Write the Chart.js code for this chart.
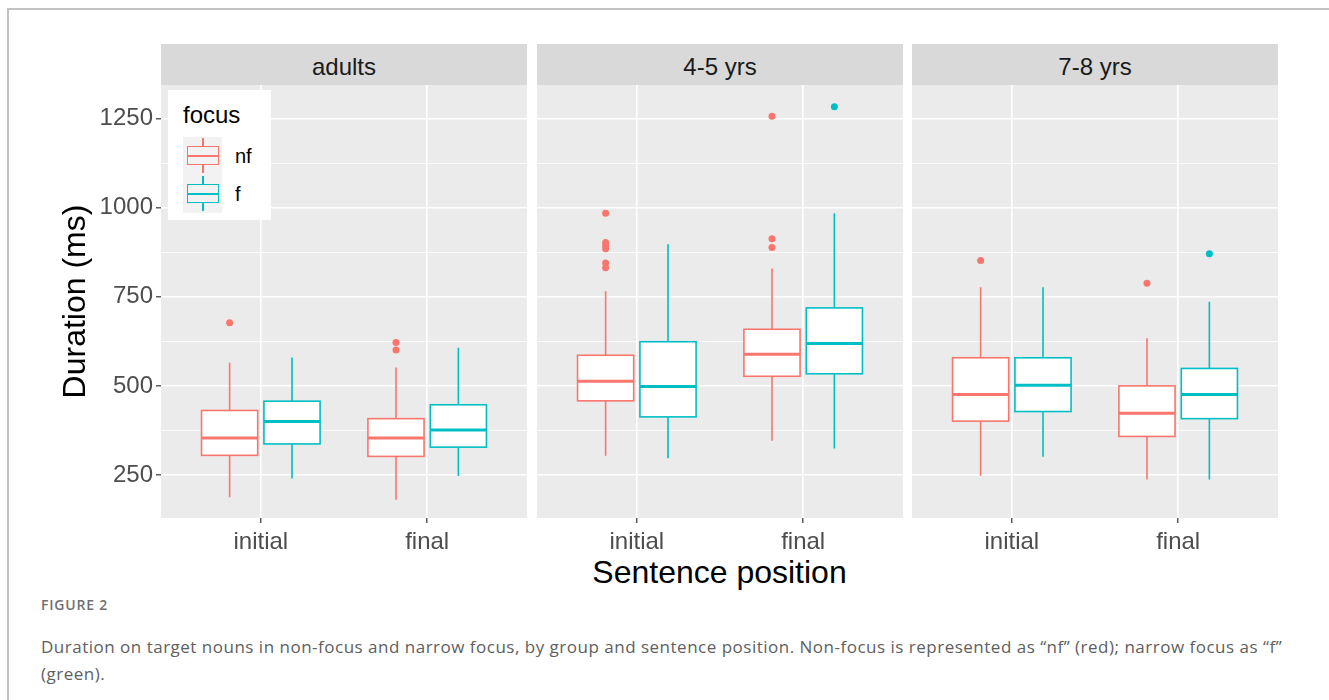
<!DOCTYPE html>
<html>
<head>
<meta charset="utf-8">
<script src="https://cdn.jsdelivr.net/npm/chart.js@4"></script>
<style>
  body { margin: 0; width: 1329px; height: 700px; background: #fff; position: relative; overflow: hidden; font-family: "Liberation Sans", Arial, sans-serif; }
  #frame { position: absolute; left: 7px; top: 8px; width: 1400px; height: 800px; border-left: 2px solid #c2c2c2; border-top: 2px solid #c2c2c2; }
  .strip { position: absolute; top: 44px; height: 36px; padding-top: 5px; width: 366px; background: #d9d9d9; color: #1a1a1a; font-size: 24px; line-height: 36px; text-align: center; }
  .panel { position: absolute; top: 85px; height: 475px; }
  #legend { position: absolute; left: 168px; top: 90px; width: 103px; height: 130px; background: #fff; z-index: 2; }
  #legend .ltitle { position: absolute; left: 15px; top: 11px; font-size: 24px; line-height: 28px; color: #000; }
  #legend .key { position: absolute; left: 15px; width: 39px; height: 38px; background: #f2f2f2; }
  #legend .key i { position: absolute; display: block; box-sizing: border-box; }
  #legend .lab { position: absolute; left: 67px; font-size: 20px; line-height: 24px; color: #000; }
  #xtitle { position: absolute; left: 161px; width: 1117px; top: 554px; text-align: center; font-size: 32px; line-height: 36px; color: #000; }
  #figlabel { position: absolute; left: 41px; top: 597px; font-family: "Open Sans", sans-serif; font-size: 14px; line-height: 16px; font-weight: 600; letter-spacing: 0.8px; color: #707070; }
  #caption { position: absolute; left: 41px; top: 633px; font-family: "Open Sans", sans-serif; font-size: 17px; line-height: 27px; letter-spacing: 0.5px; color: #606060; white-space: nowrap; }
</style>
</head>
<body>
<div id="frame"></div>
<div id="legend"></div>
<div id="xtitle">Sentence position</div>
<div id="figlabel">FIGURE 2</div>
<div id="caption">Duration on target nouns in non-focus and narrow focus, by group and sentence position. Non-focus is represented as “nf” (red); narrow focus as “f”<br>(green).</div>
<script>
// facets, x categories and fill groups
const groups = ['adults', '4-5 yrs', '7-8 yrs'];
const positions = ['initial', 'final'];
const focusLevels = ['nf', 'f'];
const focusColors = ['#F8766D', '#00BFC4'];

const yTicks = [250, 500, 750, 1000, 1250];
const yMinor = [375, 625, 875, 1125];

// [lower whisker, q1, median, q3, upper whisker] per group, then initial / final
const nfStats = [
  [[187, 305, 354, 431, 565], [180, 302, 354, 408, 552]],
  [[304, 458, 513, 586, 766], [346, 527, 589, 659, 830]],
  [[248, 401, 476, 579, 777], [237, 358, 423, 500, 634]]
];
const fStats = [
  [[240, 337, 400, 457, 580], [247, 328, 376, 447, 607]],
  [[297, 413, 498, 624, 898], [324, 534, 619, 719, 985]],
  [[301, 428, 502, 579, 777], [237, 408, 476, 549, 736]]
];
const nfOutliers = [
  [[677], [601, 622]],
  [[832, 845, 885, 894, 903, 985], [889, 913, 1257]],
  [[852], [788]]
];
const fOutliers = [
  [[], []],
  [[], [1284]],
  [[], [871]]
];

const FONT = '"Liberation Sans", Arial, sans-serif';
const panelLeft = [161, 537, 912];
const panelWidth = 366;
const yAxisWidth = 161;
const dodge = [-0.1875, 0.1875];
const halfBox = 0.16875;

// grey panel background
const panelBg = {
  id: 'panelBg',
  beforeDraw(chart) {
    const { ctx, chartArea: a } = chart;
    ctx.save();
    ctx.fillStyle = '#EBEBEB';
    ctx.fillRect(a.left, a.top, a.right - a.left, a.bottom - a.top);
    ctx.restore();
  }
};

// box + whiskers + median, drawn through the chart scales
const boxes = {
  id: 'boxes',
  beforeDatasetsDraw(chart, args, opts) {
    const { ctx, scales: { x, y } } = chart;
    [nfStats, fStats].forEach((stats, k) => {
      stats[opts.group].forEach((s, p) => {
        const c = p + 1 + dodge[k];
        const xl = x.getPixelForValue(c - halfBox);
        const xr = x.getPixelForValue(c + halfBox);
        const xc = x.getPixelForValue(c);
        const [lo, q1, med, q3, hi] = s.map(v => y.getPixelForValue(v));
        ctx.save();
        ctx.strokeStyle = focusColors[k];
        ctx.lineWidth = 1.6;
        ctx.beginPath();
        ctx.moveTo(xc, q3); ctx.lineTo(xc, hi);
        ctx.moveTo(xc, q1); ctx.lineTo(xc, lo);
        ctx.stroke();
        ctx.fillStyle = '#fff';
        ctx.fillRect(xl, q3, xr - xl, q1 - q3);
        ctx.strokeRect(xl, q3, xr - xl, q1 - q3);
        ctx.lineWidth = 3;
        ctx.beginPath();
        ctx.moveTo(xl, med); ctx.lineTo(xr, med);
        ctx.stroke();
        ctx.restore();
      });
    });
  }
};

function panelConfig(g) {
  const datasets = focusLevels.map((f, k) => {
    const outs = (k === 0 ? nfOutliers : fOutliers)[g];
    const pts = [];
    outs.forEach((list, p) => list.forEach(v => pts.push({ x: p + 1 + dodge[k], y: v })));
    return {
      type: 'scatter', label: f, data: pts,
      backgroundColor: focusColors[k], pointBackgroundColor: focusColors[k],
      pointBorderWidth: 0, pointRadius: 3.5
    };
  });

  const first = g === 0;
  return {
    type: 'scatter',
    data: { datasets },
    plugins: [panelBg, boxes],
    options: {
      responsive: false,
      animation: false,
      layout: { padding: 0, autoPadding: false },
      plugins: { legend: { display: false }, tooltip: { enabled: false }, boxes: { group: g } },
      scales: {
        x: {
          type: 'linear', min: 0.4, max: 2.6,
          afterBuildTicks: s => { s.ticks = positions.map((_, i) => ({ value: i + 1 })); },
          ticks: {
            callback: v => positions[v - 1],
            font: { family: FONT, size: 24 }, color: '#4D4D4D', padding: 5,
            maxRotation: 0, autoSkip: false
          },
          grid: { color: '#fff', lineWidth: 1.6, tickColor: '#333', tickLength: 5, tickWidth: 1.2 },
          border: { display: false },
          afterFit: s => { s.height = 42; s.paddingLeft = 0; s.paddingRight = 0; }
        },
        y: {
          min: 129, max: 1345,
          afterBuildTicks: s => {
            s.ticks = yMinor.concat(yTicks).sort((a, b) => a - b).map(v => ({ value: v }));
          },
          ticks: {
            display: first,
            callback: v => (yTicks.includes(v) ? String(v) : ''),
            font: { family: FONT, size: 24 }, color: '#4D4D4D', padding: 3, autoSkip: false
          },
          grid: {
            color: '#fff',
            lineWidth: c => (c.tick && yTicks.includes(c.tick.value) ? 1.6 : 0.8),
            tickColor: c => (c.tick && yTicks.includes(c.tick.value) ? '#333' : 'rgba(0,0,0,0)'),
            tickWidth: 1.2,
            tickLength: 5,
            drawTicks: first
          },
          border: { display: false },
          title: {
            display: first, text: 'Duration (ms)', color: '#000',
            font: { family: FONT, size: 32 }, padding: { top: 57, bottom: 0 }
          },
          afterFit: s => { s.width = first ? yAxisWidth : 0; s.paddingTop = 0; s.paddingBottom = 0; }
        }
      }
    }
  };
}

groups.forEach((name, g) => {
  const strip = document.createElement('div');
  strip.className = 'strip';
  strip.style.left = panelLeft[g] + 'px';
  strip.textContent = name;
  document.body.appendChild(strip);

  const left = g === 0 ? panelLeft[0] - yAxisWidth : panelLeft[g];
  const width = g === 0 ? yAxisWidth + panelWidth : panelWidth;
  const wrap = document.createElement('div');
  wrap.className = 'panel';
  wrap.style.left = left + 'px';
  wrap.style.width = width + 'px';
  const canvas = document.createElement('canvas');
  canvas.width = width;
  canvas.height = 475;
  wrap.appendChild(canvas);
  document.body.appendChild(wrap);
  new Chart(canvas, panelConfig(g));
});

// legend: title, boxplot keys, labels
const legend = document.getElementById('legend');
legend.innerHTML = '<div class="ltitle">focus</div>';
focusLevels.forEach((f, k) => {
  const top = 47 + k * 38;
  const col = focusColors[k];
  const key = document.createElement('div');
  key.className = 'key';
  key.style.top = top + 'px';
  key.innerHTML =
    `<i style="left:19px;top:1px;width:1.6px;height:9px;background:${col}"></i>` +
    `<i style="left:4px;top:9px;width:32px;height:19px;border:1.6px solid ${col}"></i>` +
    `<i style="left:4px;top:17.5px;width:32px;height:2px;background:${col}"></i>` +
    `<i style="left:19px;top:28px;width:1.6px;height:8px;background:${col}"></i>`;
  legend.appendChild(key);
  const lab = document.createElement('div');
  lab.className = 'lab';
  lab.style.top = (top + 7) + 'px';
  lab.textContent = f;
  legend.appendChild(lab);
});
</script>
</body>
</html>
